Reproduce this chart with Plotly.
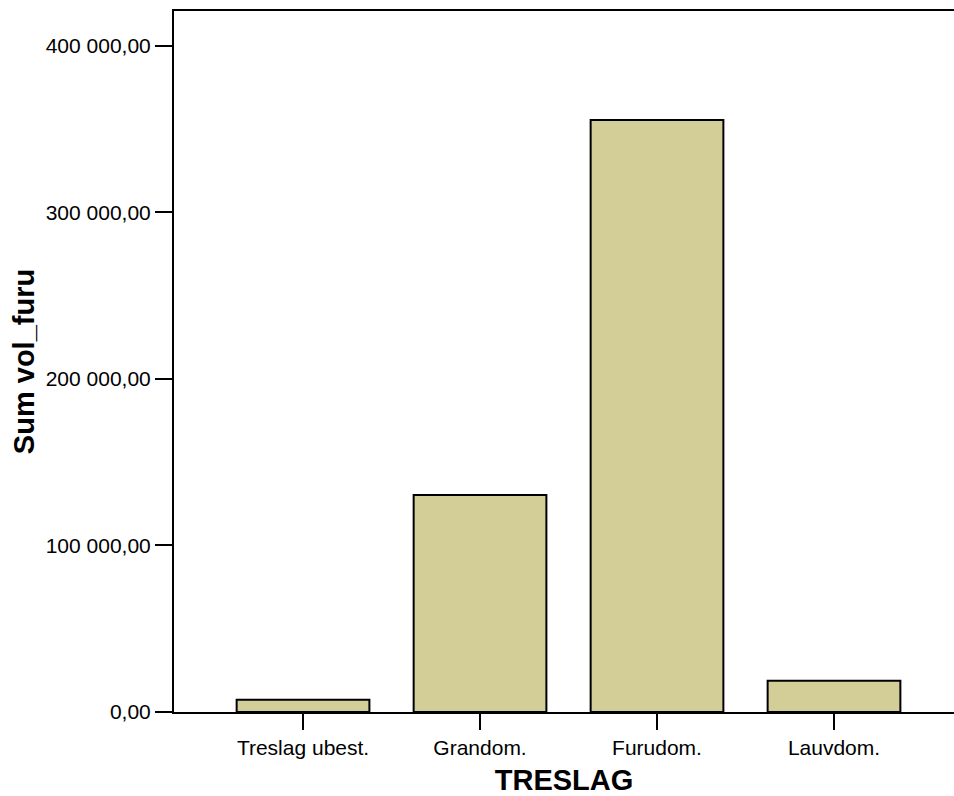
import plotly.graph_objects as go

categories = ["Treslag ubest.", "Grandom.", "Furudom.", "Lauvdom."]
values = [7300, 130300, 355500, 18700]
y_tickvals = [0, 100000, 200000, 300000, 400000]
y_ticktext = ["0,00", "100 000,00", "200 000,00", "300 000,00", "400 000,00"]

fig = go.Figure()
fig.add_trace(go.Bar(
    x=categories, y=values,
    marker=dict(color="#d3ce97", line=dict(color="black", width=2)),
    width=0.75,
))

font = "Liberation Sans, Arial, sans-serif"
fig.update_layout(
    width=954, height=796,
    margin=dict(l=174, r=0, t=11, b=84),
    plot_bgcolor="white", paper_bgcolor="white",
    showlegend=False,
    font=dict(family=font, size=21, color="black"),
    xaxis=dict(
        range=[-0.729, 3.678],
        showline=True, linecolor="black", linewidth=2, mirror=True,
        ticks="outside", ticklen=16, tickwidth=2, tickcolor="black",
        showgrid=False, zeroline=False,
        tickfont=dict(size=21),
        title=dict(text="<b>TRESLAG</b>", font=dict(size=29), standoff=12),
    ),
    yaxis=dict(
        range=[0, 421000],
        tickvals=y_tickvals, ticktext=y_ticktext,
        showline=True, linecolor="black", linewidth=2,
        ticks="outside", ticklen=17, tickwidth=2, tickcolor="black",
        showgrid=False, zeroline=False,
        tickfont=dict(size=21),
        title=dict(text="<b>Sum vol_furu</b>", font=dict(size=29), standoff=3),
    ),
)

fig.write_html(
    "out.html",
    config={"displayModeBar": False},
    post_script="document.body.style.margin='0';document.body.style.overflow='hidden';",
)
